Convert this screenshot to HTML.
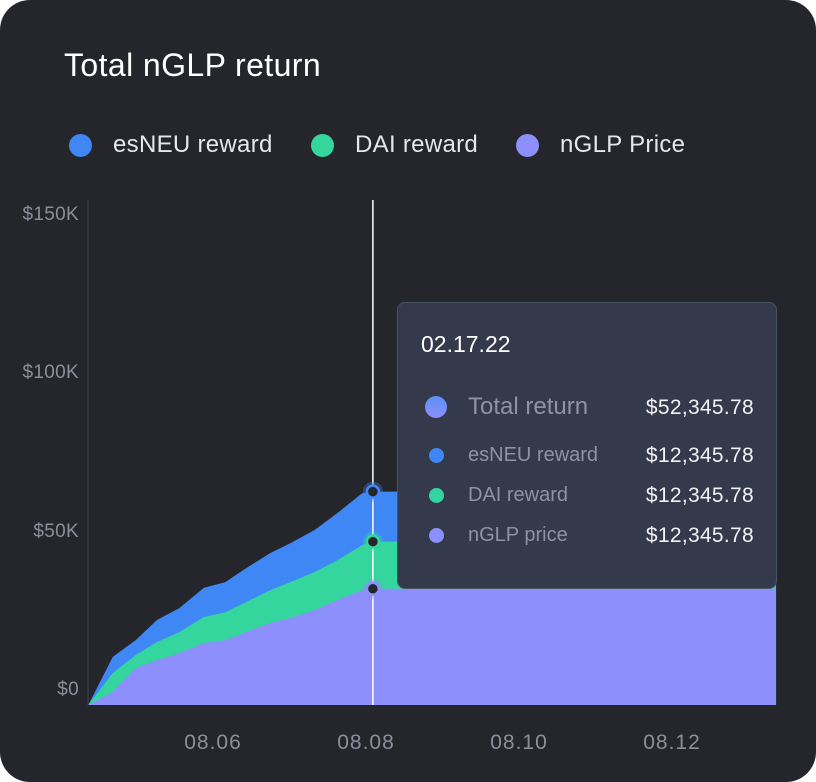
<!DOCTYPE html>
<html><head><meta charset="utf-8"><style>
body{margin:0;background:#fff;width:816px;height:782px;overflow:hidden;font-family:"Liberation Sans",sans-serif}
#card{position:absolute;left:0;top:0;width:816px;height:782px;background:#25262b;border-radius:30px;overflow:hidden}
.t{position:absolute;white-space:nowrap}
.leg{position:absolute;top:133px;height:24px;display:flex;align-items:center;color:#e6e7ea;font-size:24px;letter-spacing:0.3px}
.leg i{display:inline-block;width:23px;height:23px;border-radius:50%;margin-right:21px}
.yl{position:absolute;right:737px;color:#8b8f9b;font-size:19px;letter-spacing:0.3px}
.xl{position:absolute;top:731px;color:#8b8f9b;font-size:21px;letter-spacing:1px;transform:translateX(-50%)}
#tip{position:absolute;left:397px;top:302px;width:378px;height:285px;background:#343a4b;border:1px solid #4b5165;border-radius:8px}
.row{position:absolute;left:0;width:378px;height:30px}
.row i{position:absolute;border-radius:50%}
.row .n{position:absolute;left:70px;color:#8e93a2}
.row .v{position:absolute;right:22px;color:#f2f3f5;letter-spacing:0.3px}
</style></head><body>
<div id="card">
<div class="t" style="left:64px;top:47px;font-size:32px;letter-spacing:0.4px;color:#fff">Total nGLP return</div>
<div class="leg" style="left:69px"><i style="background:#3f87f5"></i>esNEU reward</div>
<div class="leg" style="left:311px"><i style="background:#35d69e"></i>DAI reward</div>
<div class="leg" style="left:516px"><i style="background:#8c8ffc"></i>nGLP Price</div>
<svg id="chart" width="816" height="782" style="position:absolute;left:0;top:0"></svg>
<div id="ylabels"></div><div id="xlabels"></div>
<div id="tip">
<div class="t" style="left:23px;top:28px;font-size:23px;color:#fff">02.17.22</div>
<div class="row" style="top:90px"><i style="left:27px;top:3px;width:22px;height:22px;background:linear-gradient(#5b8ff5,#8c8ffc)"></i><span class="n" style="font-size:24px;top:0">Total return</span><span class="v" style="font-size:21px;top:3px">$52,345.78</span></div>
<div class="row" style="top:141px"><i style="left:31px;top:4px;width:15px;height:15px;background:#3f87f5"></i><span class="n" style="font-size:20px">esNEU reward</span><span class="v" style="font-size:21px">$12,345.78</span></div>
<div class="row" style="top:181px"><i style="left:31px;top:4px;width:15px;height:15px;background:#35d69e"></i><span class="n" style="font-size:20px">DAI reward</span><span class="v" style="font-size:21px">$12,345.78</span></div>
<div class="row" style="top:221px"><i style="left:31px;top:4px;width:15px;height:15px;background:#8c8ffc"></i><span class="n" style="font-size:20px">nGLP price</span><span class="v" style="font-size:21px">$12,345.78</span></div>
</div>
</div>
<script>
const days=[4.37,4.69,4.99,5.27,5.56,5.88,6.16,6.44,6.75,7.02,7.33,7.63,7.95,8.09,13.34,13.36];
const nglp=[0,4.1,11.7,14.2,16.4,19.6,20.5,23.1,25.9,27.5,30.0,33.2,36.3,36.7,36.7,36.7];
const dai=[0,6.0,4.1,5.7,6.6,8.2,8.8,9.5,10.4,11.4,12.0,12.6,14.2,14.9,14.9,14.9];
const esneu=[0,5.1,4.7,7.0,7.6,9.2,9.5,10.7,11.7,12.3,13.3,14.9,16.4,15.8,15.8,75.5];
const yTicks=[0,50,100,150];
const yTickLabels=["$0","$50K","$100K","$150K"];
const xTicks=[6,8,10,12];
const xTickLabels=["08.06","08.08","08.10","08.12"];
const hoverIndex=13;
const X=d=>213+(d-6)*76.5;
const Y=v=>705-v*3.166;
const NS="http://www.w3.org/2000/svg";
const svg=document.getElementById('chart');
function mk(t,a){const e=document.createElementNS(NS,t);for(const k in a)e.setAttribute(k,a[k]);svg.appendChild(e);return e;}
const axis=mk('line',{x1:88,y1:200,x2:88,y2:705,stroke:'#3a3c44','stroke-width':1.5});


const s1=nglp,s2=nglp.map((v,i)=>v+dai[i]),s3=s2.map((v,i)=>v+esneu[i]);
function area(top,bot,col,name){
 let d='M'+days.map((x,i)=>X(x)+','+Y(top[i])).join('L');
 for(let i=days.length-1;i>=0;i--)d+='L'+X(days[i])+','+Y(bot[i]);
 const p=mk('path',{d:d+'Z',fill:col});
 
 
}
const zero=days.map(()=>0);
area(s3,zero,'#3f87f5','esneu-area');
area(s2,zero,'#35d69e','dai-area');
area(s1,zero,'#8c8ffc','nglp-area');
const hx=X(days[hoverIndex]);
const vl=mk('line',{x1:hx,y1:200,x2:hx,y2:705,stroke:'#fff','stroke-width':1.5});


[[s3,'#3f87f5','marker-esneu'],[s2,'#35d69e','marker-dai'],[s1,'#8c8ffc','marker-nglp']].forEach(([s,c,n])=>{
 const y=Y(s[hoverIndex]);
 mk('circle',{cx:hx,cy:y,r:10,fill:c,'fill-opacity':0.35});
 const m=mk('circle',{cx:hx,cy:y,r:6,fill:'#25262b',stroke:c,'stroke-width':2.5});
 
 
});
const yl=document.getElementById('ylabels');
yTicks.forEach((v,i)=>{const e=document.createElement('div');e.className='yl';e.style.top=(Y(v)-26)+'px';e.textContent=yTickLabels[i];


yl.appendChild(e);});
const xl=document.getElementById('xlabels');
xTicks.forEach((v,i)=>{const e=document.createElement('div');e.className='xl';e.style.left=X(v)+'px';e.textContent=xTickLabels[i];


xl.appendChild(e);});
</script>
</body></html>
